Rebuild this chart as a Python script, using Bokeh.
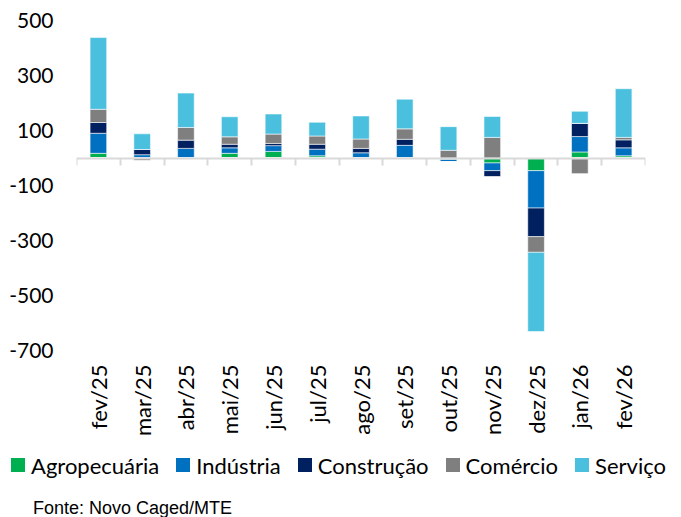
import math
import numpy as np
from bokeh.plotting import figure
from bokeh.layouts import column
from bokeh.models import (ColumnDataSource, Range1d, LinearAxis, FixedTicker, Div)
from bokeh.embed import file_html
from bokeh.resources import INLINE

months = ["fev/25", "mar/25", "abr/25", "mai/25", "jun/25", "jul/25", "ago/25",
          "set/25", "out/25", "nov/25", "dez/25", "jan/26", "fev/26"]
agro = [17, 0, 0, 17, 24, 8, 0, 0, -5, -18, -46, 22, 8]
industria = [73, 12, 35, 20, 21, 24, 19, 46, -8, -28, -136, 56, 29]
construcao = [39, 19, 30, 13, 8, 18, 16, 22, -1, -23, -104, 48, 29]
comercio = [48, -10, 46, 27, 34, 30, 34, 38, 28, 75, -57, -58, 9]
servico = [261, 57, 125, 73, 73, 50, 84, 108, 86, 76, -288, 44, 177]
y_ticks = [-700, -500, -300, -100, 100, 300, 500]

names = ["Agropecuária", "Indústria", "Construção", "Comércio", "Serviço"]
colors = ["#00B050", "#0070C0", "#002060", "#7F7F7F", "#4BC0DE"]
series = [agro, industria, construcao, comercio, servico]
source_note = "Fonte: Novo Caged/MTE"

n = len(months)
x = np.arange(n)
FONT = "Lato"
W = 665

p = figure(width=W, height=443, x_range=Range1d(-0.5, n - 0.5),
           y_range=Range1d(-700, 500), output_backend="svg", toolbar_location=None,
           min_border_left=76, min_border_right=20, min_border_top=20,
           min_border_bottom=93)
p.outline_line_color = None
p.grid.visible = False

pos_base = np.zeros(n)
neg_base = np.zeros(n)
for name, col, vals in zip(names, colors, series):
    v = np.array(vals, dtype=float)
    pv = np.clip(v, 0, None)
    nv = np.clip(v, None, 0)
    src_p = ColumnDataSource(dict(x=x, bottom=pos_base.copy(), top=pos_base + pv))
    src_n = ColumnDataSource(dict(x=x, bottom=neg_base + nv, top=neg_base.copy()))
    p.vbar(x="x", bottom="bottom", top="top", width=0.38, source=src_p,
           fill_color=col, line_color="white", line_width=0.8, line_alpha=0.7)
    p.vbar(x="x", bottom="bottom", top="top", width=0.38, source=src_n,
           fill_color=col, line_color="white", line_width=0.8, line_alpha=0.7)
    pos_base = pos_base + pv
    neg_base = neg_base + nv

# y axis
ya = p.yaxis[0]
ya.ticker = FixedTicker(ticks=y_ticks)
ya.major_label_overrides = {t: str(t) for t in y_ticks}
ya.axis_line_color = None
ya.major_tick_line_color = None
ya.major_tick_out = 0
ya.major_tick_in = 0
ya.minor_tick_line_color = None
ya.major_label_text_font = FONT
ya.major_label_text_font_size = "21px"
ya.major_label_text_color = "#000000"
ya.major_label_standoff = 23

# category labels at the bottom
xa = p.xaxis[0]
xa.ticker = FixedTicker(ticks=list(x))
xa.major_label_overrides = {int(i): m for i, m in zip(x, months)}
xa.major_label_orientation = math.pi / 2
xa.axis_line_color = None
xa.major_tick_line_color = None
xa.major_tick_out = 0
xa.major_tick_in = 0
xa.minor_tick_line_color = None
xa.major_label_text_font = FONT
xa.major_label_text_font_size = "22px"
xa.major_label_text_color = "#000000"
xa.major_label_standoff = 14

# zero line axis with ticks between categories
bounds = [float(b) for b in (x - 0.5)] + [n - 0.5]
za = LinearAxis(fixed_location=0, ticker=FixedTicker(ticks=bounds),
                axis_line_color="#D9D9D9", axis_line_width=2,
                major_tick_line_color="#D9D9D9", major_tick_line_width=2,
                major_tick_out=7, major_tick_in=0, minor_tick_line_color=None,
                major_label_overrides={b: "" for b in bounds},
                major_label_text_font_size="1px")
p.add_layout(za, "below")

# legend + source note
item_html = "".join(
    f'<span style="display:inline-block;width:14px;height:14px;background:{c};'
    f'vertical-align:middle;margin-right:6px;"></span>'
    f'<span style="vertical-align:middle;margin-right:17px;">{nm}</span>'
    for nm, c in zip(names, colors))
html = (
    f'<div style="position:relative;width:{W}px;height:65px;color:#000;">'
    f'<div style="position:absolute;left:6px;top:3px;font-family:{FONT};'
    f'font-size:22px;line-height:23px;white-space:nowrap;">{item_html}</div>'
    f'<div style="position:absolute;left:28px;top:50px;font-family:\'Liberation Sans\';'
    f'font-size:18px;line-height:21px;white-space:nowrap;">{source_note}</div>'
    f'</div>')
div = Div(text=html, width=W, height=65)

layout = column(p, div)
open("out.html", "w").write(file_html(layout, INLINE))
